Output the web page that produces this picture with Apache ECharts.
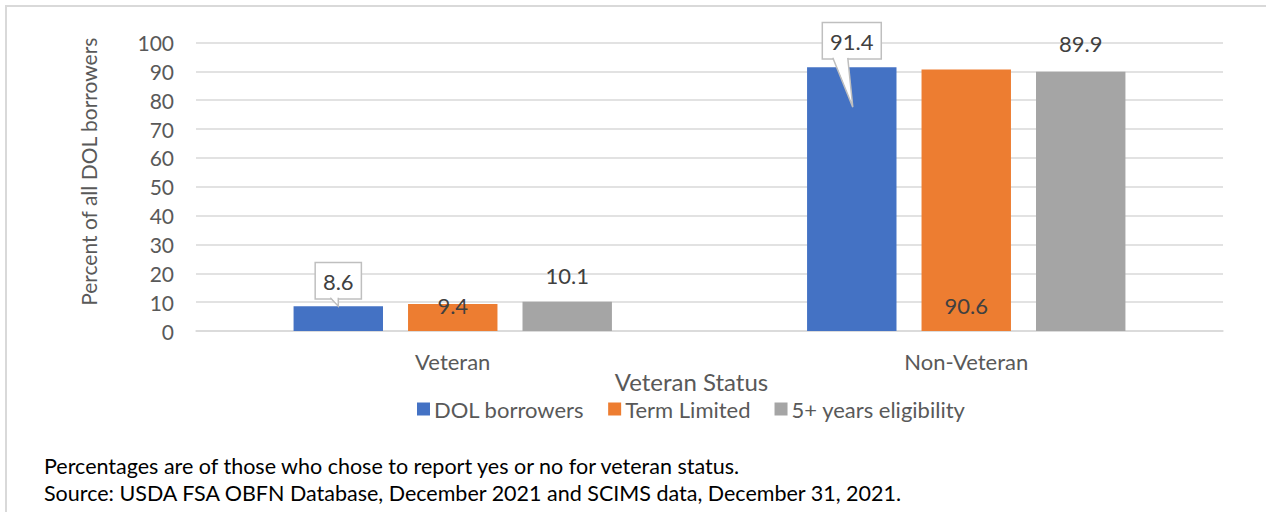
<!DOCTYPE html>
<html>
<head>
<meta charset="utf-8">
<script src="https://cdn.jsdelivr.net/npm/echarts@6/dist/echarts.min.js"></script>
<style>
html,body{margin:0;padding:0;background:#fff;}
#wrap{position:relative;width:1266px;height:512px;overflow:hidden;}
#frame{position:absolute;left:5px;top:5px;width:1270px;height:520px;border-left:2px solid #d9d9d9;border-top:2px solid #d9d9d9;box-sizing:border-box;}
#chart{position:absolute;left:0;top:0;width:1266px;height:512px;}
</style>
</head>
<body>
<div id="wrap"><div id="frame"></div><div id="chart"></div></div>
<script>
const categories = ['Veteran', 'Non-Veteran'];
const seriesNames = ['DOL borrowers', 'Term Limited', '5+ years eligibility'];
const dolBorrowers = [8.6, 91.4];
const termLimited = [9.4, 90.6];
const fiveYears = [10.1, 89.9];
const yTicks = [0, 10, 20, 30, 40, 50, 60, 70, 80, 90, 100];
const yAxisName = 'Percent of all DOL borrowers';
const xAxisName = 'Veteran Status';
const noteLines = [
  'Percentages are of those who chose to report yes or no for veteran status.',
  'Source: USDA FSA OBFN Database, December 2021 and SCIMS data, December 31, 2021.'
];

const FONT = 'Lato, "Noto Sans", sans-serif';
const TXT = '#595959';
const LBL = '#404040';
const colors = ['#4472c4', '#ed7d31', '#a5a5a5'];

const calloutLabel = (dist) => ({
  show: true, position: 'top', distance: dist,
  color: LBL, fontSize: 22, fontFamily: FONT,
  backgroundColor: '#fff', borderColor: '#bfbfbf', borderWidth: 1.5,
  padding: [7, 7, 6, 7]
});
const plainLabel = (pos, dist) => ({
  show: true, position: pos, distance: dist,
  color: LBL, fontSize: 22, fontFamily: FONT
});

const chart = echarts.init(document.getElementById('chart'), null, {renderer: 'svg'});

const option = {
  animation: false,
  color: colors,
  textStyle: {fontFamily: FONT},
  grid: {left: 196, right: 43, top: 42.5, bottom: 181},
  title: [
    {text: noteLines[0], left: 39, top: 450, textStyle: {color: '#000', fontSize: 21.5, fontWeight: 'normal', fontFamily: FONT}},
    {text: noteLines[1], left: 39, top: 477, textStyle: {color: '#000', fontSize: 21.5, fontWeight: 'normal', fontFamily: FONT}}
  ],
  legend: {
    data: seriesNames,
    top: 393, left: 412,
    itemWidth: 13, itemHeight: 13, itemGap: 24,
    icon: 'rect',
    textStyle: {color: TXT, fontSize: 22, fontFamily: FONT, padding: [0, 0, 0, -1]}
  },
  xAxis: {
    type: 'category', data: categories,
    name: xAxisName, nameLocation: 'middle', nameGap: 38, nameMoveOverlap: false,
    nameTextStyle: {color: TXT, fontSize: 24, fontFamily: FONT, padding: [0, 36, 0, 0]},
    axisLine: {lineStyle: {color: '#d9d9d9', width: 1.5}},
    axisTick: {show: false},
    axisLabel: {color: TXT, fontSize: 22, fontFamily: FONT, margin: 19}
  },
  yAxis: {
    type: 'value', min: 0, max: 100, interval: 10,
    name: yAxisName, nameLocation: 'middle', nameGap: 97, nameRotate: 90, nameMoveOverlap: false,
    nameTextStyle: {color: TXT, fontSize: 21, fontFamily: FONT, padding: [0, 0, 0, 30]},
    axisLine: {show: false}, axisTick: {show: false},
    axisLabel: {color: TXT, fontSize: 21, fontFamily: FONT, margin: 22,
      formatter: (v) => yTicks.includes(v) ? String(v) : ''},
    splitLine: {lineStyle: {color: '#d9d9d9', width: 1.5}}
  },
  series: [
    {name: seriesNames[0], type: 'bar', barGap: '28%', barCategoryGap: '38%',
     data: [
       {value: dolBorrowers[0], label: calloutLabel(8)},
       {value: dolBorrowers[1], label: calloutLabel(9)}
     ]},
    {name: seriesNames[1], type: 'bar', barGap: '28%', barCategoryGap: '38%',
     data: [
       {value: termLimited[0], label: plainLabel('top', -12.5)},
       {value: termLimited[1], label: plainLabel('insideBottom', 15)}
     ]},
    {name: seriesNames[2], type: 'bar', barGap: '28%', barCategoryGap: '38%',
     data: [
       {value: fiveYears[0], label: plainLabel('top', 15)},
       {value: fiveYears[1], label: plainLabel('top', 17)}
     ]}
  ]
};
chart.setOption(option);

// callout pointers, drawn from the bar layout of the first series
function pointers() {
  const data = chart.getModel().getSeriesByIndex(0).getData();
  const specs = [
    {idx: 0, dist: 8, baseL: -8, baseR: 0, tipDx: 0, tipVal: null},
    {idx: 1, dist: 9, baseL: -19, baseR: -4, tipDx: 1, tipVal: 77.6}
  ];
  const els = [];
  specs.forEach(s => {
    const lay = data.getItemLayout(s.idx);
    const cx = lay.x + lay.width / 2;
    const top = Math.min(lay.y, lay.y + lay.height);
    const by = top - s.dist;
    const tipY = s.tipVal == null ? top : chart.convertToPixel({yAxisIndex: 0}, s.tipVal);
    const tip = [cx + s.tipDx, tipY];
    els.push({type: 'polygon', z: 100, silent: true,
      shape: {points: [[cx + s.baseL, by - 1.5], [cx + s.baseR, by - 1.5], tip]},
      style: {fill: '#fff', stroke: null}});
    els.push({type: 'polyline', z: 101, silent: true,
      shape: {points: [[cx + s.baseL, by - 0.5], tip, [cx + s.baseR, by - 0.5]]},
      style: {stroke: '#bfbfbf', lineWidth: 1.5, fill: null}});
  });
  chart.setOption({graphic: {elements: els}});
}
pointers();
</script>
</body>
</html>
